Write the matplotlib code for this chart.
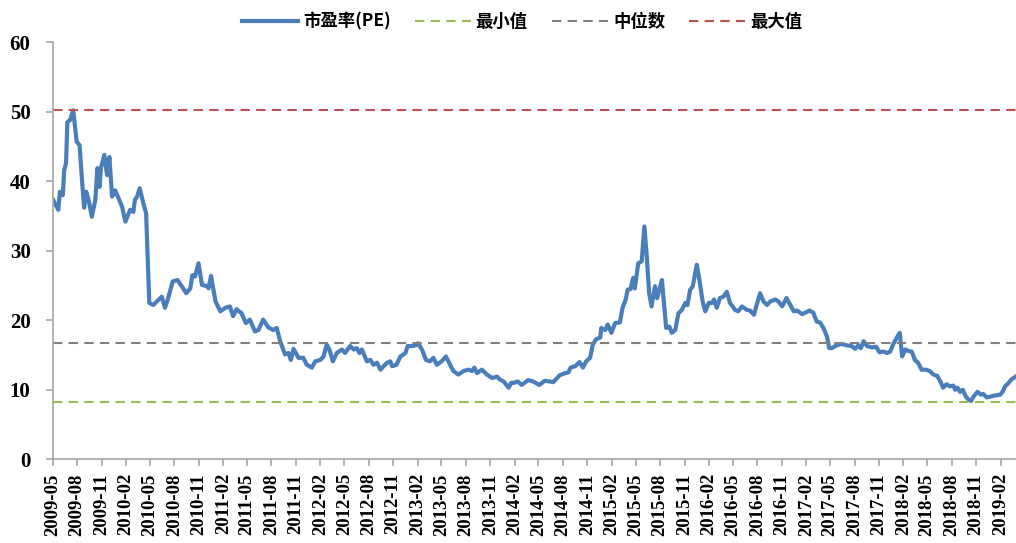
import matplotlib
matplotlib.use("Agg")
import matplotlib.pyplot as plt
import matplotlib.dates as mdates
import pandas as pd

# PE readings (date, value)
dates = [
    "2009-05-03", "2009-05-22", "2009-05-28", "2009-06-08", "2009-06-13", "2009-06-20",
    "2009-06-25", "2009-07-05", "2009-07-17", "2009-07-30", "2009-08-10", "2009-08-19",
    "2009-08-27", "2009-09-04", "2009-09-13", "2009-09-25", "2009-10-08", "2009-10-16",
    "2009-10-24", "2009-10-29", "2009-11-11", "2009-11-21", "2009-11-30", "2009-12-10",
    "2009-12-22", "2010-01-04", "2010-01-17", "2010-01-29", "2010-02-16", "2010-02-28",
    "2010-03-06", "2010-03-14", "2010-03-24", "2010-04-07", "2010-04-17", "2010-04-21",
    "2010-04-29", "2010-05-14", "2010-05-27", "2010-06-15", "2010-06-27", "2010-07-09",
    "2010-07-26", "2010-08-13", "2010-08-29", "2010-09-15", "2010-09-30", "2010-10-08",
    "2010-10-18", "2010-10-31", "2010-11-13", "2010-12-02", "2010-12-08", "2010-12-17",
    "2011-01-03", "2011-01-21", "2011-02-09", "2011-02-26", "2011-03-10", "2011-03-23",
    "2011-04-11", "2011-04-27", "2011-05-12", "2011-05-31", "2011-06-13", "2011-07-01",
    "2011-07-20", "2011-08-08", "2011-08-21", "2011-09-03", "2011-09-21", "2011-10-04",
    "2011-10-13", "2011-10-23", "2011-11-11", "2011-11-29", "2011-12-12", "2011-12-31",
    "2012-01-13", "2012-02-01", "2012-02-13", "2012-02-25", "2012-03-06", "2012-03-19",
    "2012-04-03", "2012-04-22", "2012-05-04", "2012-05-23", "2012-06-05", "2012-06-17",
    "2012-06-27", "2012-07-06", "2012-07-25", "2012-08-07", "2012-08-19", "2012-09-01",
    "2012-09-14", "2012-09-26", "2012-10-09", "2012-10-21", "2012-10-28", "2012-11-13",
    "2012-11-28", "2012-12-17", "2012-12-25", "2013-01-11", "2013-01-24", "2013-02-02",
    "2013-02-17", "2013-03-04", "2013-03-19", "2013-04-01", "2013-04-14", "2013-05-02",
    "2013-05-18", "2013-06-03", "2013-06-15", "2013-07-04", "2013-07-23", "2013-08-11",
    "2013-08-24", "2013-09-02", "2013-09-12", "2013-09-30", "2013-10-19", "2013-11-08",
    "2013-11-26", "2013-12-06", "2013-12-21", "2014-01-09", "2014-01-18", "2014-01-28",
    "2014-02-12", "2014-02-27", "2014-03-23", "2014-04-11", "2014-05-04", "2014-05-25",
    "2014-06-13", "2014-06-25", "2014-07-20", "2014-08-09", "2014-08-21", "2014-08-30",
    "2014-09-16", "2014-10-02", "2014-10-15", "2014-10-27", "2014-11-11", "2014-11-21",
    "2014-12-04", "2014-12-19", "2014-12-23", "2015-01-07", "2015-01-16", "2015-01-30",
    "2015-02-13", "2015-03-03", "2015-03-13", "2015-03-25", "2015-04-01", "2015-04-12",
    "2015-04-22", "2015-04-28", "2015-05-11", "2015-05-24", "2015-06-03", "2015-06-12",
    "2015-06-21", "2015-06-30", "2015-07-13", "2015-07-21", "2015-08-08", "2015-08-24",
    "2015-09-05", "2015-09-14", "2015-09-27", "2015-10-09", "2015-10-22", "2015-11-04",
    "2015-11-12", "2015-11-22", "2015-12-02", "2015-12-17", "2015-12-27", "2016-01-08",
    "2016-01-18", "2016-01-31", "2016-02-12", "2016-02-20", "2016-03-01", "2016-03-13",
    "2016-03-26", "2016-04-08", "2016-04-20", "2016-05-09", "2016-05-21", "2016-06-04",
    "2016-06-22", "2016-07-04", "2016-07-19", "2016-07-29", "2016-08-11", "2016-08-24",
    "2016-09-06", "2016-09-18", "2016-10-07", "2016-10-19", "2016-11-02", "2016-11-18",
    "2016-12-03", "2016-12-15", "2016-12-28", "2017-01-16", "2017-01-28", "2017-02-13",
    "2017-02-27", "2017-03-12", "2017-03-24", "2017-04-06", "2017-04-19", "2017-04-28",
    "2017-05-07", "2017-05-26", "2017-06-14", "2017-07-03", "2017-07-21", "2017-08-03",
    "2017-08-16", "2017-08-25", "2017-09-04", "2017-09-17", "2017-10-05", "2017-10-21",
    "2017-11-03", "2017-11-18", "2017-12-01", "2017-12-13", "2017-12-26", "2018-01-10",
    "2018-01-18", "2018-01-27", "2018-02-08", "2018-02-19", "2018-03-04", "2018-03-16",
    "2018-03-28", "2018-04-10", "2018-04-26", "2018-05-11", "2018-05-24", "2018-06-08",
    "2018-06-21", "2018-06-30", "2018-07-13", "2018-07-26", "2018-08-08", "2018-08-14",
    "2018-08-23", "2018-09-02", "2018-09-12", "2018-09-24", "2018-10-03", "2018-10-13",
    "2018-10-24", "2018-11-06", "2018-11-19", "2018-11-28", "2018-12-11", "2018-12-23",
    "2019-01-12", "2019-01-31", "2019-02-10", "2019-02-18", "2019-03-01", "2019-03-14",
    "2019-03-30",
]
pe = [
    37.3, 35.9, 38.5, 38.0, 41.6, 42.6,
    48.5, 48.8, 50.2, 45.7, 45.2, 40.2,
    36.2, 38.5, 37.3, 34.9, 37.3, 41.9,
    39.2, 41.9, 43.8, 40.9, 43.5, 37.8,
    38.7, 37.5, 36.3, 34.2, 35.9, 35.6,
    37.3, 37.8, 39.0, 36.8, 35.4, 31.1,
    22.5, 22.2, 22.7, 23.4, 21.8, 23.2,
    25.6, 25.8, 24.9, 23.9, 24.6, 26.5,
    26.3, 28.2, 25.1, 24.9, 24.6, 26.4,
    22.7, 21.3, 21.8, 22.0, 20.6, 21.6,
    21.0, 19.6, 20.1, 18.4, 18.6, 20.1,
    19.0, 18.6, 18.9, 17.0, 15.1, 15.3,
    14.3, 15.9, 14.6, 14.6, 13.6, 13.2,
    14.1, 14.3, 14.8, 16.5, 15.8, 14.1,
    15.3, 15.8, 15.3, 16.3, 15.8, 16.0,
    15.3, 15.8, 14.1, 14.3, 13.6, 13.9,
    12.9, 13.4, 13.9, 14.1, 13.4, 13.6,
    14.8, 15.3, 16.3, 16.3, 16.4, 16.7,
    15.8, 14.3, 14.1, 14.6, 13.6, 14.1,
    14.8, 13.6, 12.7, 12.2, 12.7, 12.9,
    12.7, 13.2, 12.4, 12.9, 12.2, 11.7,
    11.9, 11.5, 11.2, 10.3, 11.0, 11.0,
    11.2, 10.7, 11.4, 11.2, 10.7, 11.3,
    11.2, 11.1, 12.1, 12.4, 12.5, 13.2,
    13.4, 14.0, 13.2, 14.1, 14.6, 16.5,
    17.3, 17.5, 18.9, 18.6, 19.4, 18.2,
    19.6, 19.7, 21.8, 23.0, 24.4, 24.5,
    26.1, 24.6, 28.2, 28.5, 33.5, 29.2,
    23.9, 22.0, 24.9, 23.2, 25.8, 18.9,
    19.1, 18.2, 18.6, 21.0, 21.5, 22.5,
    22.2, 24.4, 24.9, 28.0, 25.8, 22.7,
    21.3, 22.5, 22.5, 23.0, 21.8, 23.2,
    23.4, 24.1, 22.5, 21.5, 21.3, 22.0,
    21.5, 21.4, 20.8, 22.2, 23.9, 22.7,
    22.2, 22.7, 23.0, 22.7, 22.0, 23.2,
    22.2, 21.3, 21.4, 20.9, 21.1, 21.4,
    21.1, 19.8, 19.7, 18.9, 17.7, 16.0,
    16.0, 16.4, 16.6, 16.4, 16.3, 15.9,
    16.4, 16.0, 17.0, 16.3, 16.1, 16.2,
    15.4, 15.5, 15.3, 15.5, 16.7, 17.7,
    18.2, 14.8, 15.8, 15.6, 15.5, 14.3,
    13.9, 12.9, 12.9, 12.7, 12.2, 12.0,
    11.1, 10.3, 10.8, 10.5, 10.6, 10.0,
    10.3, 9.7, 10.0, 9.0, 8.6, 8.4,
    9.1, 9.7, 9.3, 9.4, 8.9, 9.0,
    9.2, 9.3, 9.8, 10.5, 10.9, 11.5,
    11.9,
]
pe_min = 8.3
pe_median = 16.7
pe_max = 50.2

labels = ["市盈率(PE)", "最小值", "中位数", "最大值"]

x = pd.to_datetime(dates)

fig = plt.figure(figsize=(10.16, 5.43), dpi=100)
ax = fig.add_axes([0.0519, 0.1541, 0.9481, 0.768])

l1, = ax.plot(x, pe, color="#4a7ebb", lw=3.0, solid_joinstyle="round")
l2 = ax.axhline(pe_min, color="#9bbb59", lw=1.5, dashes=(4.5, 3))
l3 = ax.axhline(pe_median, color="#808080", lw=1.5, dashes=(4.5, 3))
l4 = ax.axhline(pe_max, color="#c0504d", lw=1.5, dashes=(4.5, 3))

ax.set_ylim(0, 60)
ax.set_yticks(range(0, 61, 10))
ax.set_xlim(pd.Timestamp("2009-05-01"), pd.Timestamp("2019-03-31"))
ax.xaxis.set_major_locator(mdates.MonthLocator(bymonth=[2, 5, 8, 11]))
ax.xaxis.set_major_formatter(mdates.DateFormatter("%Y-%m"))

for s in ["top", "right"]:
    ax.spines[s].set_visible(False)
for s in ["left", "bottom"]:
    ax.spines[s].set_color("#a6a6a6")
    ax.spines[s].set_linewidth(1.2)

ax.tick_params(axis="y", direction="out", length=5, width=1.2, color="#a6a6a6", pad=11)
ax.tick_params(axis="x", direction="out", length=5, width=1.2, color="#a6a6a6", pad=5)
for t in ax.get_yticklabels():
    t.set_fontfamily("Liberation Serif")
    t.set_fontweight("bold")
    t.set_fontsize(15)
for t in ax.get_xticklabels():
    t.set_fontfamily("Liberation Serif")
    t.set_fontweight("bold")
    t.set_fontsize(13.5)
    t.set_rotation(90)

fig.legend([l1, l2, l3, l4], labels, loc="center", bbox_to_anchor=(0.514, 0.96),
           ncol=4, frameon=False, handlelength=3.2, columnspacing=1.4, handletextpad=0.3,
           prop={"family": ["Noto Sans CJK SC", "DejaVu Sans"], "weight": "bold", "size": 12.5})

fig.savefig("out.png", dpi=100)
